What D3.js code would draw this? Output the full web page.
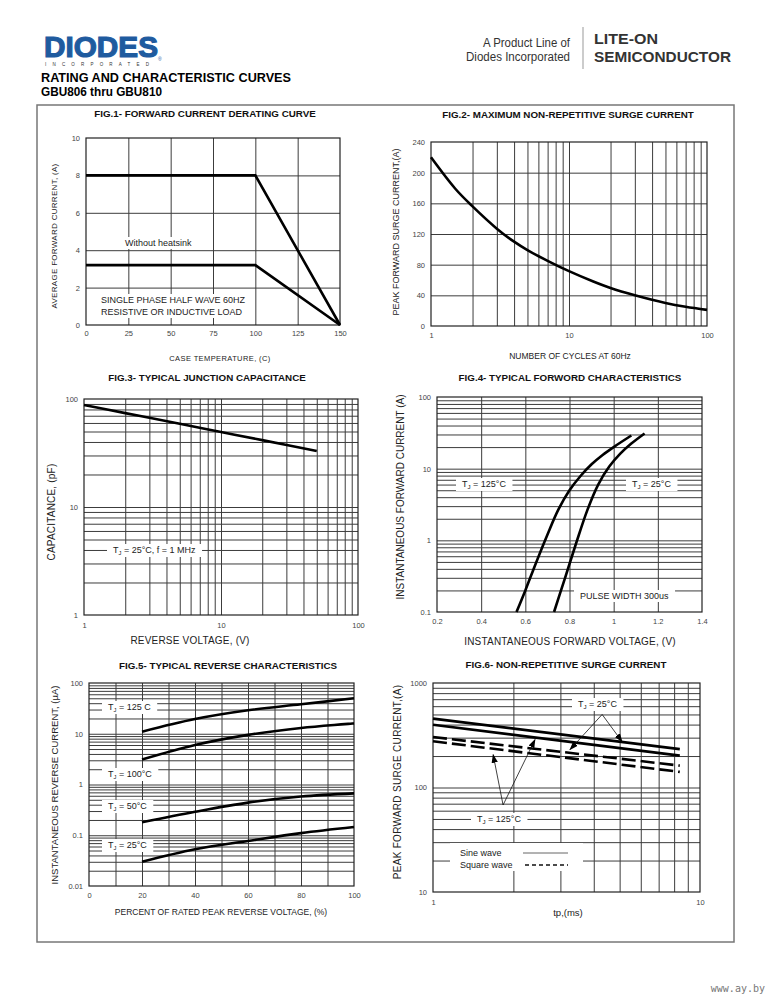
<!DOCTYPE html>
<html>
<head>
<meta charset="utf-8">
<script src="https://cdn.jsdelivr.net/npm/d3@7"></script>
<style>
body { margin: 0; background: #fff; }
svg { font-family: "Liberation Sans", Arial, sans-serif; }
.grid line { stroke: #3c3c3c; stroke-width: 1; }
.grid .domain { display: none; }
.lbl text { font-size: 7.5px; fill: #444; }
.lbl .domain { display: none; }
.curve { fill: none; stroke: #000; stroke-width: 2.6; }
.ttl { font-size: 9.8px; font-weight: bold; fill: #111; text-anchor: middle; }
.axt { fill: #222; text-anchor: middle; }
.note { font-size: 9px; fill: #222; }
</style>
</head>
<body>
<script>
// Fig.1 forward current derating
var f1Temp = [0, 100, 150];
var f1Heatsink = [8, 8, 0];
var f1NoHeatsink = [3.2, 3.2, 0];
var f1XTicks = [0, 25, 50, 75, 100, 125, 150];
var f1YTicks = [0, 2, 4, 6, 8, 10];

// Fig.2 max non-repetitive surge current
var f2Cycles = [1, 1.5, 2, 3, 4, 5, 7, 10, 15, 20, 30, 50, 70, 100];
var f2Amps = [220, 179, 156, 127, 110, 99, 85, 71.5, 58, 49.5, 40, 30, 25, 21];
var f2YTicks = [0, 40, 80, 120, 160, 200, 240];

// Fig.3 junction capacitance
var f3Volts = [1, 2, 3, 5, 10, 20, 50];
var f3Cap = [88, 74, 67, 59, 49.5, 41.6, 33];

// Fig.4 forward characteristics
var f4V125 = [0.56, 0.6, 0.65, 0.7, 0.75, 0.8, 0.85, 0.9, 0.95, 1.0, 1.08];
var f4I125 = [0.1, 0.2, 0.5, 1.2, 2.7, 5.0, 7.9, 11.5, 15.5, 20, 29];
var f4V25 = [0.73, 0.78, 0.83, 0.88, 0.93, 0.98, 1.03, 1.08, 1.14];
var f4I25 = [0.1, 0.3, 0.91, 2.6, 6.0, 10.7, 16.2, 22.4, 31];
var f4XTicks = [0.2, 0.4, 0.6, 0.8, 1, 1.2, 1.4];

// Fig.5 reverse characteristics
var f5Pct = [20, 40, 60, 80, 100];
var f5I125 = [11, 19.5, 29, 38, 50];
var f5I100 = [3.1, 6, 9.5, 13, 16];
var f5I50 = [0.18, 0.29, 0.44, 0.58, 0.67];
var f5I25 = [0.03, 0.053, 0.077, 0.11, 0.145];
var f5YTicks = [0.01, 0.1, 1, 10, 100];

// Fig.6 surge current vs pulse width
var f6Tp = [1, 8.4];
var f6Sine25 = [456, 233];
var f6Sine125 = [399, 202];
var f6Square25 = [304, 162];
var f6Square125 = [277, 141];
var f6Arrow25 = {from: [4.3, 500], to: [[3.26, 230], [5.11, 274]]};
var f6Arrow125 = {from: [1.83, 68], to: [[1.68, 206], [2.41, 287]]};

function logGrid(lo, hi) {
  var out = [];
  for (var d = lo; d < hi; d *= 10)
    for (var k = 1; k < 10; k++) if (k * d > lo) out.push(k * d);
  return out;
}
function pairs(xs, ys) { return xs.map(function(v, i) { return [v, ys[i]]; }); }

var svg = d3.select("body").append("svg").attr("width", 773).attr("height", 1000);

// header
svg.append("text").attr("x", 44).attr("y", 57).attr("font-size", 30).attr("font-weight", "bold")
  .attr("fill", "#1f5b9f").attr("stroke", "#1f5b9f").attr("stroke-width", 1.2)
  .attr("textLength", 114).attr("lengthAdjust", "spacingAndGlyphs").text("DIODES");
svg.append("text").attr("x", 45).attr("y", 66).attr("font-size", 4.5).attr("fill", "#333")
  .attr("textLength", 104).attr("lengthAdjust", "spacing").text("INCORPORATED");
svg.append("text").attr("x", 158).attr("y", 61).attr("font-size", 5).attr("fill", "#1f5b9f").text("®");
svg.append("text").attr("x", 570).attr("y", 47).attr("font-size", 12).attr("fill", "#333").attr("text-anchor", "end")
  .attr("textLength", 87).attr("lengthAdjust", "spacingAndGlyphs").text("A Product Line of");
svg.append("text").attr("x", 570).attr("y", 61).attr("font-size", 12).attr("fill", "#333").attr("text-anchor", "end")
  .attr("textLength", 104).attr("lengthAdjust", "spacingAndGlyphs").text("Diodes Incorporated");
svg.append("line").attr("x1", 583).attr("x2", 583).attr("y1", 27).attr("y2", 69).attr("stroke", "#999");
svg.append("text").attr("x", 594).attr("y", 44).attr("font-size", 15).attr("font-weight", "bold").attr("fill", "#333")
  .attr("textLength", 64).attr("lengthAdjust", "spacingAndGlyphs").text("LITE-ON");
svg.append("text").attr("x", 594).attr("y", 62).attr("font-size", 15).attr("font-weight", "bold").attr("fill", "#333")
  .attr("textLength", 137).attr("lengthAdjust", "spacingAndGlyphs").text("SEMICONDUCTOR");
svg.append("text").attr("x", 41).attr("y", 82).attr("font-size", 12.5).attr("font-weight", "bold")
  .attr("textLength", 250).attr("lengthAdjust", "spacingAndGlyphs").text("RATING AND CHARACTERISTIC CURVES");
svg.append("text").attr("x", 41).attr("y", 96).attr("font-size", 12.5).attr("font-weight", "bold")
  .attr("textLength", 121).attr("lengthAdjust", "spacingAndGlyphs").text("GBU806 thru GBU810");

// page frame
svg.append("rect").attr("x", 37).attr("y", 105).attr("width", 697).attr("height", 837)
  .attr("fill", "none").attr("stroke", "#777").attr("stroke-width", 1.5);

svg.append("text").attr("x", 765).attr("y", 992).attr("font-size", 10).attr("fill", "#777")
  .attr("text-anchor", "end").attr("font-family", "DejaVu Sans Mono").text("www.ay.by");

svg.append("defs").append("marker").attr("id", "arr").attr("viewBox", "0 0 10 10")
  .attr("refX", 9).attr("refY", 5).attr("markerWidth", 9).attr("markerHeight", 9).attr("orient", "auto")
  .attr("markerUnits", "userSpaceOnUse")
  .append("path").attr("d", "M0,1.5L10,5L0,8.5Z").attr("fill", "#000");

function panel(o) {
  var g = svg.append("g").attr("transform", "translate(" + o.left + "," + o.top + ")");
  var x = o.x.range([0, o.w]), y = o.y.range([o.h, 0]);
  g.append("g").attr("class", "grid").attr("transform", "translate(0," + o.h + ")")
    .call(d3.axisBottom(x).tickValues(o.xGrid).tickSize(-o.h).tickFormat(""));
  g.append("g").attr("class", "grid")
    .call(d3.axisLeft(y).tickValues(o.yGrid).tickSize(-o.w).tickFormat(""));
  g.append("rect").attr("width", o.w).attr("height", o.h)
    .attr("fill", "none").attr("stroke", "#222").attr("stroke-width", 1.2);
  g.append("g").attr("class", "lbl").attr("transform", "translate(0," + o.h + ")")
    .call(d3.axisBottom(x).tickValues(o.xTicks).tickFormat(o.xFmt || d3.format("")).tickSize(0).tickPadding(o.xPad || 6));
  g.append("g").attr("class", "lbl")
    .call(d3.axisLeft(y).tickValues(o.yTicks).tickFormat(o.yFmt || d3.format("")).tickSize(0).tickPadding(6));
  svg.append("text").attr("class", "ttl").attr("x", o.title[1]).attr("y", o.title[2]).text(o.title[0]);
  svg.append("text").attr("class", "axt").attr("font-size", o.xLab[3]).attr("letter-spacing", o.xLab[4] || 0)
    .attr("x", o.xLab[1]).attr("y", o.xLab[2]).text(o.xLab[0]);
  svg.append("text").attr("class", "axt").attr("font-size", o.yLab[3]).attr("letter-spacing", o.yLab[4] || 0)
    .attr("dominant-baseline", "middle")
    .attr("transform", "translate(" + o.yLab[1] + "," + o.yLab[2] + ") rotate(-90)").text(o.yLab[0]);
  return {g: g, x: x, y: y};
}

function curve(p, data, width, dash, kind) {
  var line = d3.line().x(function(d) { return p.x(d[0]); }).y(function(d) { return p.y(d[1]); })
    .curve(kind || d3.curveCatmullRom.alpha(0.5));
  var path = p.g.append("path").datum(data).attr("class", "curve").attr("d", line);
  if (width) path.attr("stroke-width", width);
  if (dash) path.attr("stroke-dasharray", dash);
  return path;
}

// note with white background; a line starting with "TJ" gets a subscript J
function note(p, x, y, lines, size, lead) {
  var grp = p.g.append("g");
  var t = grp.append("text").attr("class", "note").attr("font-size", size || 9);
  lines.forEach(function(s, i) {
    var ln = t.append("tspan").attr("x", x).attr("y", y + i * (lead || 12));
    if (s.indexOf("TJ") === 0) {
      ln.text("T");
      t.append("tspan").attr("font-size", (size || 9) * 0.65).attr("dy", 2).text("J");
      t.append("tspan").attr("dy", -2).text(s.slice(2));
    } else ln.text(s);
  });
  var b = t.node().getBBox();
  grp.insert("rect", "text").attr("x", b.x - 6).attr("y", b.y - 1)
    .attr("width", b.width + 12).attr("height", b.height + 2).attr("fill", "#fff");
}

// FIG.1
var p1 = panel({
  left: 86, top: 138, w: 254, h: 187,
  x: d3.scaleLinear().domain([0, 150]), y: d3.scaleLinear().domain([0, 10]),
  xGrid: [25, 50, 75, 100, 125], yGrid: [2, 4, 6, 8],
  xTicks: f1XTicks, yTicks: f1YTicks, xPad: 6,
  title: ["FIG.1- FORWARD CURRENT DERATING  CURVE", 205, 117],
  xLab: ["CASE  TEMPERATURE,  (C)", 220, 361, 7.5, 0.4],
  yLab: ["AVERAGE  FORWARD  CURRENT,  (A)", 55, 236, 8, 0.3]
});
p1.g.selectAll(".grid line").attr("stroke-width", 1.3).attr("stroke", "#333");
note(p1, 39, 108, ["Without heatsink"], 9);
note(p1, 15, 165, ["SINGLE  PHASE  HALF  WAVE 60HZ", "RESISTIVE  OR  INDUCTIVE  LOAD"], 9.2, 12);
curve(p1, pairs(f1Temp, f1Heatsink), 2.4, null, d3.curveLinear);
curve(p1, pairs(f1Temp, f1NoHeatsink), 2.4, null, d3.curveLinear);

// FIG.2
var p2 = panel({
  left: 431, top: 142, w: 276, h: 184,
  x: d3.scaleLog().domain([1, 100]), y: d3.scaleLinear().domain([0, 240]),
  xGrid: logGrid(1, 100), yGrid: [40, 80, 120, 160, 200],
  xTicks: [1, 10, 100], yTicks: f2YTicks, xPad: 7,
  title: ["FIG.2- MAXIMUM  NON-REPETITIVE  SURGE CURRENT", 568, 118],
  xLab: ["NUMBER OF CYCLES AT 60Hz", 570, 359, 8.5, 0],
  yLab: ["PEAK FORWARD SURGE CURRENT,(A)", 397, 232, 9, 0]
});
p2.g.selectAll(".grid line").filter(function(d) { return [2, 5, 10, 30, 50, 70].indexOf(d) >= 0; })
  .attr("stroke-width", 1.8).attr("stroke", "#222");
curve(p2, pairs(f2Cycles, f2Amps), 4);

// FIG.3
var p3 = panel({
  left: 84, top: 399, w: 274, h: 216,
  x: d3.scaleLog().domain([1, 100]), y: d3.scaleLog().domain([1, 100]),
  xGrid: logGrid(1, 100), yGrid: logGrid(1, 100),
  xTicks: [1, 10, 100], yTicks: [1, 10, 100], xPad: 8,
  title: ["FIG.3- TYPICAL  JUNCTION CAPACITANCE", 207, 381],
  xLab: ["REVERSE  VOLTAGE,  (V)", 190, 644, 10, 0.2],
  yLab: ["CAPACITANCE,  (pF)", 52, 512, 10, 0.2]
});
note(p3, 29, 154, ["TJ = 25°C, f = 1 MHz"], 9);
curve(p3, pairs(f3Volts, f3Cap), 3.5);

// FIG.4
var p4 = panel({
  left: 437, top: 397, w: 265, h: 215,
  x: d3.scaleLinear().domain([0.2, 1.4]), y: d3.scaleLog().domain([0.1, 100]),
  xGrid: [0.4, 0.6, 0.8, 1.0, 1.2], yGrid: logGrid(0.1, 100),
  xTicks: f4XTicks, yTicks: [0.1, 1, 10, 100], xPad: 7,
  yFmt: function(d) { return d; },
  title: ["FIG.4- TYPICAL  FORWORD CHARACTERISTICS", 570, 381],
  xLab: ["INSTANTANEOUS  FORWARD  VOLTAGE,  (V)", 570, 645, 10, 0.2],
  yLab: ["INSTANTANEOUS  FORWARD CURRENT (A)", 401, 497, 10, 0]
});
note(p4, 25, 90, ["TJ = 125°C"], 9.5);
note(p4, 195, 90, ["TJ = 25°C"], 9.5);
note(p4, 143, 202, ["PULSE WIDTH 300us"], 9.5);
curve(p4, pairs(f4V125, f4I125), 2.6);
curve(p4, pairs(f4V25, f4I25), 2.6);

// FIG.5
var p5 = panel({
  left: 89, top: 683, w: 265, h: 203,
  x: d3.scaleLinear().domain([0, 100]), y: d3.scaleLog().domain([0.01, 100]),
  xGrid: [10, 20, 30, 40, 50, 60, 70, 80, 90], yGrid: logGrid(0.01, 100),
  xTicks: [0, 20, 40, 60, 80, 100], yTicks: f5YTicks, xPad: 7,
  yFmt: function(d) { return d; },
  title: ["FIG.5- TYPICAL  REVERSE CHARACTERISTICS", 228, 669],
  xLab: ["PERCENT OF RATED PEAK REVERSE VOLTAGE, (%)", 221, 915, 8.5, 0],
  yLab: ["INSTANTANEOUS  REVERSE  CURRENT,  (µA)", 55, 785, 9.5, 0]
});
p5.g.selectAll(".grid line").filter(function(d) {
  var m = d / Math.pow(10, Math.floor(Math.log10(d) + 1e-9));
  return m > 6.5 && m < 9.5;
}).attr("stroke", "#aaa").attr("stroke-width", 1.6);
p5.g.selectAll(".grid line").filter(function(d) { return d === 10 || d === 40; }).attr("stroke-width", 1.8);
note(p5, 19, 27, ["TJ = 125 C"], 9);
note(p5, 19, 94, ["TJ = 100°C"], 9);
note(p5, 19, 126, ["TJ = 50°C"], 9);
note(p5, 19, 165, ["TJ = 25°C"], 9);
curve(p5, pairs(f5Pct, f5I125), 2.6);
curve(p5, pairs(f5Pct, f5I100), 2.6);
curve(p5, pairs(f5Pct, f5I50), 2.6);
curve(p5, pairs(f5Pct, f5I25), 2.6);

// FIG.6
var p6 = panel({
  left: 433, top: 683, w: 267, h: 209,
  x: d3.scaleLog().domain([1, 10]), y: d3.scaleLog().domain([10, 1000]),
  xGrid: logGrid(1, 10), yGrid: logGrid(10, 1000),
  xTicks: [1, 10], yTicks: [10, 100, 1000], xPad: 8,
  title: ["FIG.6- NON-REPETITIVE SURGE CURRENT", 566, 668],
  xLab: ["tp,(ms)", 568, 916, 9.5, 0],
  yLab: ["PEAK  FORWARD  SURGE  CURRENT,(A)", 398, 782, 10, 0.3]
});
p6.g.selectAll(".grid line").filter(function(d) { return [20, 30, 50, 100, 5, 8].indexOf(d) >= 0; })
  .attr("stroke-width", 1.6).attr("stroke", "#222");
note(p6, 145, 24, ["TJ = 25°C"], 9.5);
note(p6, 44, 139, ["TJ = 125°C"], 9.5);
curve(p6, pairs(f6Tp, f6Sine25), 2.6);
curve(p6, pairs(f6Tp, f6Sine125), 2.6);
curve(p6, pairs(f6Tp, f6Square25), 2.8, "14,5");
curve(p6, pairs(f6Tp, f6Square125), 2.8, "14,5");
[f6Arrow25, f6Arrow125].forEach(function(a) {
  a.to.forEach(function(t) {
    p6.g.append("line").attr("x1", p6.x(a.from[0])).attr("y1", p6.y(a.from[1]))
      .attr("x2", p6.x(t[0])).attr("y2", p6.y(t[1]))
      .attr("stroke", "#111").attr("stroke-width", 0.8).attr("marker-end", "url(#arr)");
  });
});
var leg = p6.g.append("g");
leg.append("rect").attr("x", 17).attr("y", 160).attr("width", 133).attr("height", 28).attr("fill", "#fff");
leg.append("text").attr("class", "note").attr("x", 27).attr("y", 173).text("Sine wave");
leg.append("text").attr("class", "note").attr("x", 27).attr("y", 185).text("Square wave");
leg.append("line").attr("x1", 90).attr("x2", 135).attr("y1", 170).attr("y2", 170).attr("stroke", "#555").attr("stroke-width", 0.9);
leg.append("line").attr("x1", 92).attr("x2", 135).attr("y1", 182).attr("y2", 182).attr("stroke", "#111")
  .attr("stroke-width", 1.6).attr("stroke-dasharray", "4,3");
</script>
</body>
</html>
